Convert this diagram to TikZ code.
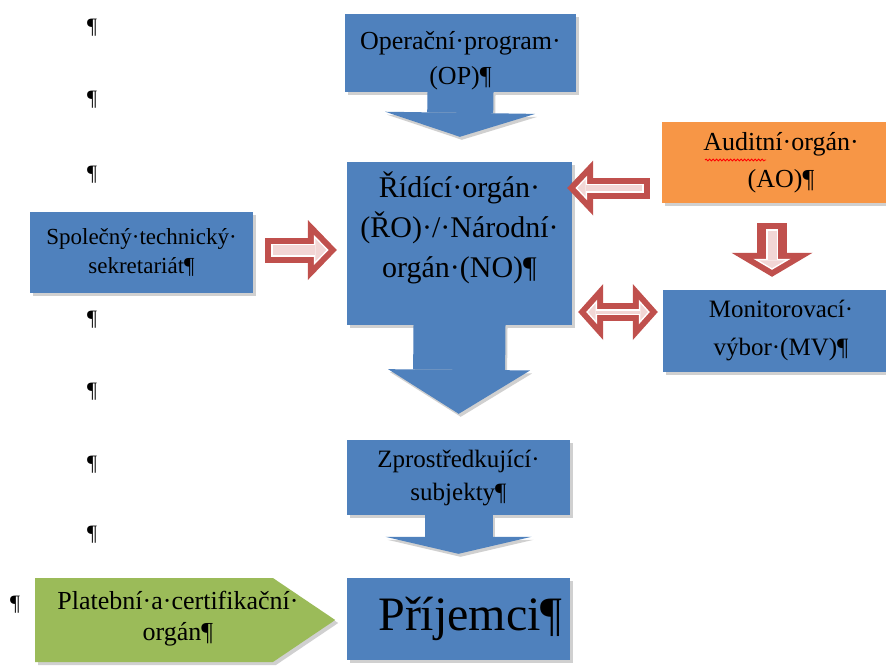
\documentclass[tikz,border=0pt]{standalone}
\usepackage{fontspec}
\setmainfont{Liberation Serif}
\usetikzlibrary{arrows.meta, shapes.symbols, shadows, decorations.pathmorphing}
\definecolor{ocblue}{RGB}{79,129,189}
\definecolor{ocorange}{RGB}{247,150,70}
\definecolor{ocgreen}{RGB}{155,187,89}
\definecolor{ocred}{RGB}{192,80,77}
\definecolor{ocpink}{RGB}{242,214,213}
\definecolor{ocshadow}{RGB}{208,208,208}

\begin{document}
\begin{tikzpicture}[x=1pt, y=-1pt,
  orgbox/.style={rectangle, inner sep=0pt, align=center, text=black,
    drop shadow={shadow xshift=3pt, shadow yshift=-3pt, fill=ocshadow, opacity=1}},
  bluebox/.style={orgbox, fill=ocblue},
  orangebox/.style={orgbox, fill=ocorange},
  greentag/.style={orgbox, signal, signal to=east, signal pointer angle=68, fill=ocgreen},
  tagtext/.style={inner sep=0pt, align=center, font={\fontsize{26}{31}\selectfont}},
  fatarrow/.style n args={3}{line width=#1, -{Triangle[length=#3, width=#2, line width=0pt]}},
  fatdouble/.style n args={3}{line width=#1, {Triangle[length=#3, width=#2, line width=0pt]}-{Triangle[length=#3, width=#2, line width=0pt]}},
  pilcrow/.style={inner sep=0pt, font={\fontsize{22}{22}\selectfont}},
  spell/.style={red, line width=0.8pt, decorate, decoration={snake, amplitude=1pt, segment length=3.5pt}}
]
  \clip (0,0) rectangle (886,666);
  \fill[white] (0,0) rectangle (886,666);

  % formatting marks down the left margin
  \foreach \py [count=\i] in {28,100,175,320,392,465,535}
    \node[pilcrow] (pil\i) at (92,\py) {¶};
  \node[pilcrow] (pil8) at (15,605) {¶};

  % boxes
  \node[bluebox, minimum width=231pt, minimum height=78pt, font={\fontsize{26}{35}\selectfont}] (op) at (460.5,53) {\mbox{}\\[-1pt]Operační·program·\\(OP)¶};
  \node[bluebox, minimum width=225pt, minimum height=163pt, font={\fontsize{30}{40}\selectfont}] (ro) at (459.5,243.5) {Řídící·orgán·\\(ŘO)·/·Národní·\\orgán·(NO)¶\\[-3pt]\mbox{}};
  \node[bluebox, minimum width=223pt, minimum height=75pt, font={\fontsize{25}{33}\selectfont}] (zs) at (458.5,477.5) {Zprostředkující·\\subjekty¶};
  \node[bluebox, minimum width=223pt, minimum height=82pt, font={\fontsize{48}{50}\selectfont}] (pr) at (458.5,619) {\hspace*{24pt}Příjemci¶};
  \node[bluebox, minimum width=223pt, minimum height=81pt, font={\fontsize{23}{29}\selectfont}] (sts) at (141.5,252.5) {Společný·technický·\\sekretariát¶};
  \node[orangebox, minimum width=238pt, minimum height=81pt, font={\fontsize{26}{37}\selectfont}] (ao) at (781,162.5) {Auditní·orgán·\\(AO)¶};
  \node[bluebox, minimum width=236pt, minimum height=82pt, font={\fontsize{25}{38}\selectfont}] (mv) at (781,331) {Monitorovací·\\výbor·(MV)¶};
  \node[greentag, anchor=west, minimum width=300pt, minimum height=84pt] (pco) at (35,620) {};
  \node[tagtext] (pcotext) at (178,619) {Platební·a·certifikační·\\orgán¶};
  \draw[spell] ([xshift=-76pt, yshift=2.5pt]ao.center) -- ([xshift=-15pt, yshift=2.5pt]ao.center);

  % callout arrows
  \draw[ocshadow, transform canvas={xshift=2pt, yshift=-3pt}, fatarrow={66pt}{150pt}{24pt}, shorten <=-1pt, shorten >=25pt] (op.south) -- (ro.north);
  \draw[ocblue, fatarrow={66pt}{150pt}{24pt}, shorten <=-1pt, shorten >=25pt] (op.south) -- (ro.north);
  \draw[ocshadow, transform canvas={xshift=2pt, yshift=-3pt}, fatarrow={92pt}{142pt}{44pt}, shorten <=-1pt, shorten >=26pt] (ro.south) -- (zs.north);
  \draw[ocblue, fatarrow={92pt}{142pt}{44pt}, shorten <=-1pt, shorten >=26pt] (ro.south) -- (zs.north);
  \draw[ocshadow, transform canvas={xshift=2pt, yshift=-3pt}, fatarrow={68pt}{146pt}{17pt}, shorten <=-1pt, shorten >=24pt] (zs.south) -- (pr.north);
  \draw[ocblue, fatarrow={68pt}{146pt}{17pt}, shorten <=-1pt, shorten >=24pt] (zs.south) -- (pr.north);

  % red arrows
  \draw[ocred, fatarrow={21pt}{55pt}{26pt}, shorten <=12pt, shorten >=-5pt,
    postaction={draw=white, fatarrow={9pt}{24.8pt}{11.7pt}, shorten <=18pt, shorten >=3.3pt},
    postaction={draw=ocpink, fatarrow={6pt}{17.3pt}{8.2pt}, shorten <=19.5pt, shorten >=5.3pt}]
    ([yshift=-25.5pt]ao.west) -- ([yshift=55.5pt]ro.east);
  \draw[ocred, fatdouble={18pt}{56pt}{25pt}, shorten <=6pt, shorten >=5pt,
    postaction={draw=white, fatdouble={6pt}{24.6pt}{11pt}, shorten <=14pt, shorten >=13pt},
    postaction={draw=ocpink, fatdouble={3pt}{16.7pt}{7.5pt}, shorten <=16pt, shorten >=15pt}]
    ([yshift=-68.5pt]ro.east) -- ([yshift=19pt]mv.west);
  \draw[ocred, fatarrow={30pt}{81pt}{24pt}, shorten <=20pt, shorten >=13pt,
    postaction={draw=white, fatarrow={12pt}{37.3pt}{11pt}, shorten <=26pt, shorten >=20pt},
    postaction={draw=ocpink, fatarrow={9pt}{26.3pt}{7.8pt}, shorten <=27.5pt, shorten >=21.7pt}]
    ([xshift=-9pt]ao.south) -- ([xshift=-9pt]mv.north);
  \draw[ocred, fatarrow={25pt}{60pt}{29pt}, shorten <=12pt, shorten >=10pt,
    postaction={draw=white, fatarrow={13pt}{30.3pt}{14.7pt}, shorten <=18pt, shorten >=18.3pt},
    postaction={draw=ocpink, fatarrow={10pt}{22.9pt}{11.1pt}, shorten <=19.5pt, shorten >=20.4pt}]
    ([yshift=2.5pt]sts.east) -- ([yshift=-6.5pt]ro.west);
\end{tikzpicture}
\end{document}
